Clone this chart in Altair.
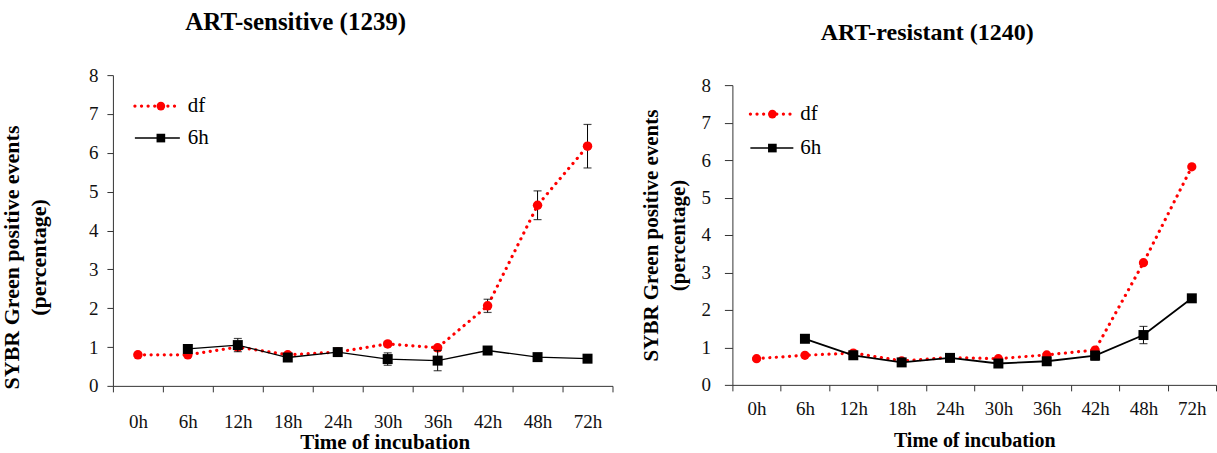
import altair as alt
import pandas as pd

FONT = "Liberation Serif"

cats = ["0h", "6h", "12h", "18h", "24h", "30h", "36h", "42h", "48h", "72h"]
y_ticks = [0, 1, 2, 3, 4, 5, 6, 7, 8]

# ART-sensitive (1239)
sens_df = [0.80, 0.80, 1.00, 0.80, 0.87, 1.08, 0.98, 2.06, 4.65, 6.17]
sens_df_err = [0.04, 0.05, 0.05, 0.04, 0.04, 0.05, 0.05, 0.17, 0.37, 0.56]
sens_6h = [None, 0.95, 1.05, 0.73, 0.87, 0.69, 0.65, 0.91, 0.74, 0.70]
sens_6h_err = [None, 0.08, 0.17, 0.06, 0.05, 0.16, 0.26, 0.05, 0.05, 0.04]

# ART-resistant (1240)
res_df = [0.70, 0.79, 0.85, 0.64, 0.73, 0.70, 0.80, 0.93, 3.26, 5.82]
res_df_err = [0.03, 0.03, 0.03, 0.03, 0.03, 0.03, 0.03, 0.03, 0.03, 0.03]
res_6h = [None, 1.23, 0.79, 0.60, 0.72, 0.57, 0.63, 0.78, 1.33, 2.31]
res_6h_err = [None, 0.03, 0.03, 0.03, 0.03, 0.03, 0.03, 0.12, 0.23, 0.05]

RED = "#FF0000"
BLACK = "#000000"
Y_TITLE = ["SYBR Green positive events", "(percentage)"]
X_TITLE = "Time of incubation"


def long_table(df_vals, df_err, h6_vals, h6_err):
    rows = []
    for s, vals, errs in (("df", df_vals, df_err), ("6h", h6_vals, h6_err)):
        for c, v, e in zip(cats, vals, errs):
            if v is None:
                continue
            rows.append({"time": c, "series": s, "value": v,
                         "lo": round(v - e, 3), "hi": round(v + e, 3)})
    return pd.DataFrame(rows)


def panel(title, data, w, h, st):
    xaxis_kw = dict(
        labelFont=FONT, labelFontSize=19, labelColor="#111", labelAngle=0,
        labelPadding=st["xlabpad"], tickBand="extent", tickSize=6,
        tickColor="#333", domainColor="#333", grid=False,
        titleFont=FONT, titleFontSize=st["xtfs"], titleFontWeight="bold",
        titleColor="#000", titlePadding=st["xtpad"],
    )
    if "xtitlex" in st:
        xaxis_kw["titleX"] = st["xtitlex"]
    xaxis = alt.Axis(**xaxis_kw)
    yaxis = alt.Axis(
        values=y_ticks, labelFont=FONT, labelFontSize=19, labelColor="#111",
        labelPadding=st["ylabpad"], tickSize=st["ytick"], tickColor="#333",
        domainColor="#333", grid=False,
        titleFont=FONT, titleFontSize=st["ytfs"], titleFontWeight="bold",
        titleColor="#000", titlePadding=st["ytpad"], titleLineHeight=27,
        titleY=st["ytitley"],
    )
    xenc = alt.X("time:N", sort=cats, bandPosition=0.5,
                 scale=alt.Scale(type="band", paddingInner=0, paddingOuter=0),
                 axis=xaxis, title=X_TITLE)

    def yenc(field):
        return alt.Y(field + ":Q",
                     scale=alt.Scale(domain=[0, 8], nice=False, range=st["yrange"]),
                     axis=yaxis, title=Y_TITLE)

    base = alt.Chart(data)
    red = base.transform_filter(alt.datum.series == "df")
    blk = base.transform_filter(alt.datum.series == "6h")

    def errlayers(src):
        rule = src.mark_rule(color=BLACK, strokeWidth=1).encode(
            x=xenc, y=yenc("lo"), y2="hi:Q")
        t1 = src.mark_tick(color=BLACK, size=8, thickness=1.2).encode(x=xenc, y=yenc("lo"))
        t2 = src.mark_tick(color=BLACK, size=8, thickness=1.2).encode(x=xenc, y=yenc("hi"))
        return [rule, t1, t2]

    red_line = red.mark_line(color=RED, strokeWidth=3.2, strokeDash=[0.1, 6.5],
                             strokeCap="round").encode(x=xenc, y=yenc("value"))
    red_pts = red.mark_point(shape="circle", filled=True, opacity=1, color=RED,
                             size=st["csize"]).encode(x=xenc, y=yenc("value"))
    blk_line = blk.mark_line(color=BLACK, strokeWidth=st["bw"]).encode(
        x=xenc, y=yenc("value"))
    blk_pts = blk.mark_point(shape="square", filled=True, opacity=1, color=BLACK,
                             size=st["ssize"]).encode(x=xenc, y=yenc("value"))

    lg = st["leg"]
    leg_red = pd.DataFrame({"series": ["df"]})
    leg_blk = pd.DataFrame({"series": ["6h"]})
    l1 = alt.Chart(leg_red).mark_rule(color=RED, strokeWidth=3.2, strokeDash=[0.1, 6.5],
                                      strokeCap="round").encode(
        x=alt.value(lg["x1"]), x2=alt.value(lg["x2"]), y=alt.value(lg["y1"]))
    l1p = alt.Chart(leg_red).mark_point(shape="circle", filled=True, opacity=1,
                                        color=RED, size=75).encode(
        x=alt.value(lg["xm"]), y=alt.value(lg["y1"]))
    l1t = alt.Chart(leg_red).mark_text(align="left", baseline="middle", font=FONT,
                                       fontSize=21, color="#000").encode(
        x=alt.value(lg["xt"]), y=alt.value(lg["y1"]), text="series:N")
    l2 = alt.Chart(leg_blk).mark_rule(color=BLACK, strokeWidth=1.5).encode(
        x=alt.value(lg["x1"]), x2=alt.value(lg["x2"]), y=alt.value(lg["y2"]))
    l2p = alt.Chart(leg_blk).mark_point(shape="square", filled=True, opacity=1,
                                        color=BLACK, size=75).encode(
        x=alt.value(lg["xm"]), y=alt.value(lg["y2"]))
    l2t = alt.Chart(leg_blk).mark_text(align="left", baseline="middle", font=FONT,
                                       fontSize=21, color="#000").encode(
        x=alt.value(lg["xt"]), y=alt.value(lg["y2"]), text="series:N")

    layers = ([red_line] + errlayers(red) + [red_pts, blk_line] + errlayers(blk)
              + [blk_pts, l1, l1p, l1t, l2, l2p, l2t])
    return alt.layer(*layers).properties(
        width=w, height=h,
        title=alt.TitleParams(title, font=FONT, fontSize=st["tfs"], fontWeight="bold",
                              color="#000", anchor="middle", dx=st["tdx"],
                              offset=st["toff"]),
    )


left = panel(
    "ART-sensitive (1239)",
    long_table(sens_df, sens_df_err, sens_6h, sens_6h_err), 500, 311,
    dict(xlabpad=21, xtpad=0, xtfs=21, xtitlex=272, ylabpad=9, ytick=6, ytfs=22,
         ytpad=38, ytitley=182, csize=90, ssize=100, bw=1.3, tfs=25, tdx=-67,
         toff=31, yrange=[311, 0],
         leg=dict(x1=22, x2=67, xm=48, xt=75, y1=31, y2=63)),
)
right = panel(
    "ART-resistant (1240)",
    long_table(res_df, res_df_err, res_6h, res_6h_err), 484, 310,
    dict(xlabpad=9, xtpad=12, xtfs=20, ylabpad=14, ytick=8, ytfs=21,
         ytpad=12, ytitley=160, csize=85, ssize=100, bw=1.8, tfs=24, tdx=-47,
         toff=30, yrange=[310, 10],
         leg=dict(x1=18, x2=61, xm=40, xt=68, y1=39, y2=73)),
)

chart = alt.hconcat(left, right, spacing=27).properties(
    padding={"left": 0, "top": 10, "right": 0, "bottom": 0}
).configure_view(strokeWidth=0)

chart.save("out.html", embed_options={"renderer": "svg", "actions": False})
